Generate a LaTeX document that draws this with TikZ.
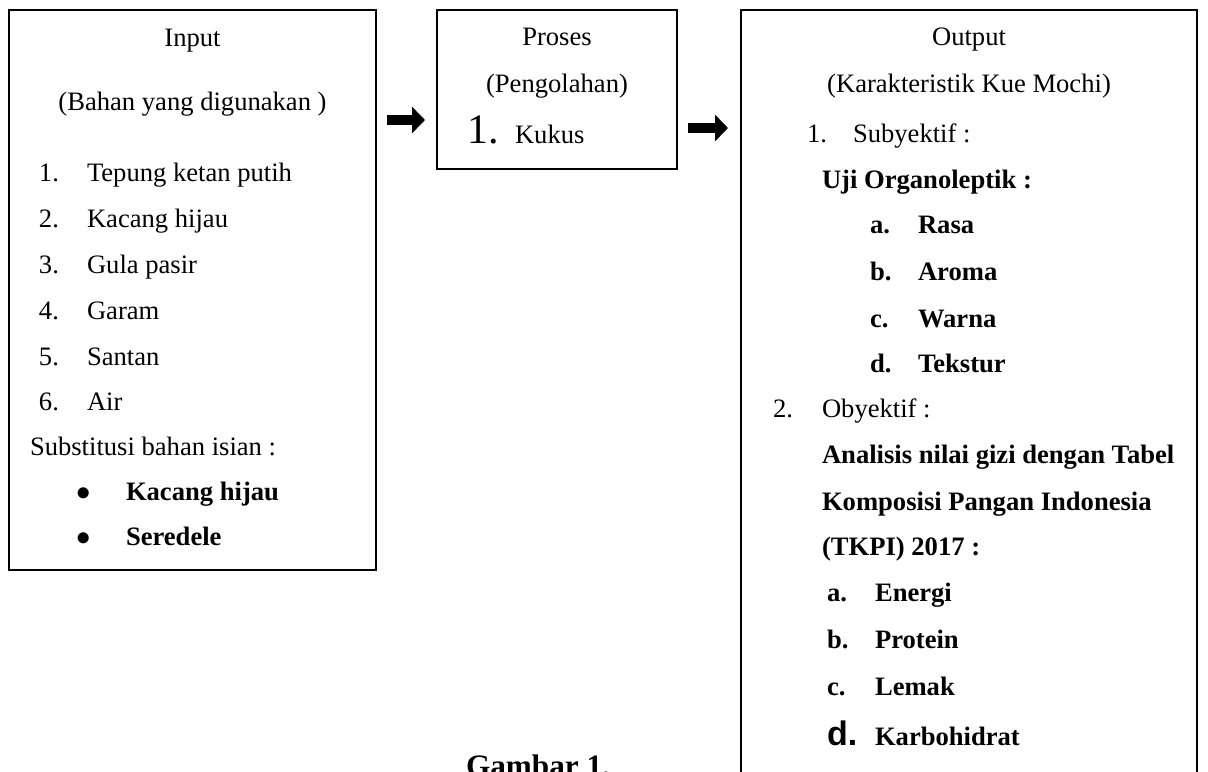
\documentclass[tikz,border=0pt]{standalone}
\usepackage{fontspec}
\setmainfont{Liberation Serif}
\newfontfamily\arialfont{Liberation Sans}
\usetikzlibrary{arrows.meta}

\begin{document}
\begin{tikzpicture}[x=0.5pt, y=-0.5pt, line width=0.6pt,
  every node/.style={inner sep=0pt, outer sep=0pt, font=\fontsize{13.3pt}{16pt}\selectfont},
  box/.style={draw, minimum width=#1},
  lt/.style={anchor=base west},
  mid/.style={anchor=base},
  bt/.style={anchor=base west, font=\fontsize{13.3pt}{16pt}\selectfont\bfseries},
  fatarrow/.style={line width=5pt, -{Triangle[length=6.5pt, width=13pt]}}]
\clip (0,0) rectangle (1208,771);
\fill[white] (0,0) rectangle (1208,771);

\node[box=183.5pt, minimum height=280pt] (inp) at (192.5,290) {};
\node[box=120pt, minimum height=79.5pt] (pro) at (557,89.5) {};
\node[box=228pt, minimum height=495pt] (outp) at (969,505) {};

\node[mid] (inhead) at (192.5,46) {Input};
\node[mid] (insub) at (192.5,110) {(Bahan yang digunakan )};
\node[lt] (n1) at (39,181) {1.};
\node[lt] (i1) at (87,181) {Tepung ketan putih};
\node[lt] (n2) at (39,227) {2.};
\node[lt] (i2) at (87,227) {Kacang hijau};
\node[lt] (n3) at (39,273) {3.};
\node[lt] (i3) at (87,273) {Gula pasir};
\node[lt] (n4) at (39,319) {4.};
\node[lt] (i4) at (87,319) {Garam};
\node[lt] (n5) at (39,365) {5.};
\node[lt] (i5) at (87,365) {Santan};
\node[lt] (n6) at (39,410) {6.};
\node[lt] (i6) at (87,410) {Air};
\node[lt] (subs) at (30,455) {Substitusi bahan isian :};
\node[lt] (b1) at (76,500) {$\bullet$};
\node[bt] (s1) at (126,500) {Kacang hijau};
\node[lt] (b2) at (76,545) {$\bullet$};
\node[bt] (s2) at (126,545) {Seredele};

\node[mid] (prohead) at (557,45) {Proses};
\node[mid] (prosub) at (557,92) {(Pengolahan)};
\node[lt, font=\fontsize{21pt}{24pt}\selectfont] (pn1) at (467,143) {1.};
\node[lt] (p1) at (515,143) {Kukus};

\node[mid] (outhead) at (969,45) {Output};
\node[mid] (outsub) at (969,92) {(Karakteristik Kue Mochi)};
\node[lt] (on1) at (807,142) {1.};
\node[lt] (o1) at (853,142) {Subyektif :};
\node[bt] (uji) at (822,188) {Uji Organoleptik :};
\node[bt] (la) at (870,233) {a.};
\node[bt] (ra) at (918,233) {Rasa};
\node[bt] (lb) at (870,280) {b.};
\node[bt] (rb) at (918,280) {Aroma};
\node[bt] (lc) at (870,327) {c.};
\node[bt] (rc) at (918,327) {Warna};
\node[bt] (ld) at (870,372) {d.};
\node[bt] (rd) at (918,372) {Tekstur};
\node[lt] (on2) at (773,417) {2.};
\node[lt] (o2) at (822,417) {Obyektif :};
\node[bt] (an1) at (822,463) {Analisis nilai gizi dengan Tabel};
\node[bt] (an2) at (822,510) {Komposisi Pangan Indonesia};
\node[bt] (an3) at (822,555) {(TKPI) 2017 :};
\node[bt] (ga) at (827,601) {a.};
\node[bt] (ea) at (875,601) {Energi};
\node[bt] (gb) at (827,648) {b.};
\node[bt] (eb) at (875,648) {Protein};
\node[bt] (gc) at (827,695) {c.};
\node[bt] (ec) at (875,695) {Lemak};
\node[lt, font=\fontsize{17pt}{20pt}\selectfont\arialfont\bfseries] (gd) at (827,745) {d.};
\node[bt] (ed) at (875,745) {Karbohidrat};

\node[mid, font=\fontsize{15.6pt}{18pt}\selectfont\bfseries] (cap) at (538,776) {Gambar 1.};

\coordinate (a1s) at (387,120);
\coordinate (a1e) at (425,120);
\coordinate (a2s) at (688,128);
\coordinate (a2e) at (728,128);
\draw[fatarrow] (a1s) -- (a1e);
\draw[fatarrow] (a2s) -- (a2e);
\end{tikzpicture}
\end{document}
